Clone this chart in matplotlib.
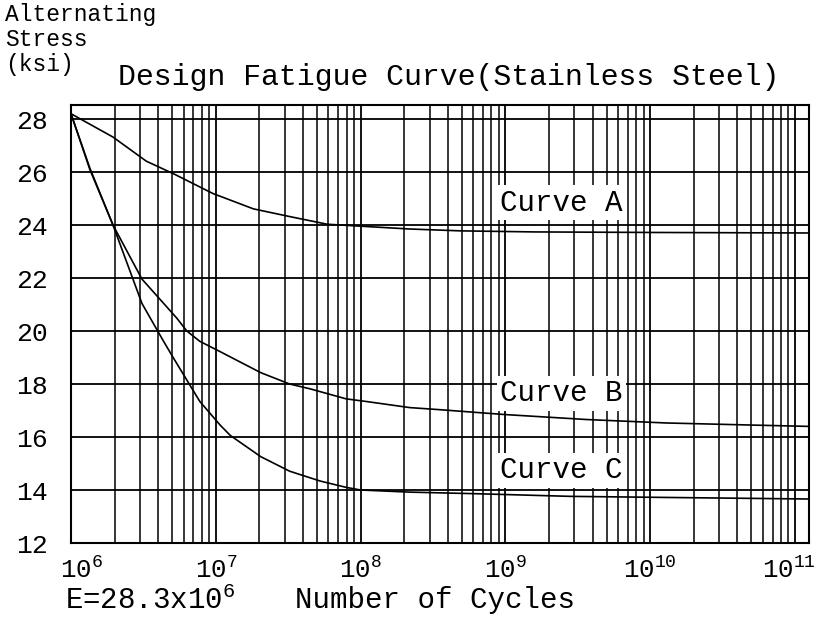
import numpy as np
import matplotlib
matplotlib.use("Agg")
import matplotlib.pyplot as plt
from matplotlib.ticker import FixedLocator, LogLocator, NullFormatter
from matplotlib.transforms import ScaledTranslation

# ---- data ----
a_log_cycles = [6.00, 6.29, 6.52, 6.71, 6.98, 7.26, 7.51, 7.77, 8.02, 8.34, 8.69, 9.20, 10.00, 11.10]
a_stress = [28.20, 27.32, 26.41, 25.93, 25.19, 24.61, 24.32, 24.03, 23.95, 23.85, 23.78, 23.74, 23.72, 23.70]

b_log_cycles = [6.00, 6.13, 6.29, 6.49, 6.73, 6.80, 6.89, 7.02, 7.31, 7.51, 7.65, 7.90, 8.04, 8.34, 8.55, 8.99, 9.56, 10.11, 10.71, 11.10]
b_stress = [28.20, 26.10, 24.00, 21.96, 20.49, 20.00, 19.61, 19.25, 18.43, 18.00, 17.82, 17.44, 17.34, 17.11, 17.03, 16.85, 16.66, 16.53, 16.45, 16.40]

c_log_cycles = [6.00, 6.13, 6.29, 6.49, 6.63, 6.70, 6.89, 7.03, 7.10, 7.31, 7.51, 7.72, 7.90, 8.00, 8.34, 8.80, 9.45, 10.10, 11.10]
c_stress = [28.20, 26.15, 24.00, 21.04, 19.70, 19.05, 17.34, 16.45, 16.06, 15.26, 14.71, 14.34, 14.10, 14.00, 13.92, 13.86, 13.76, 13.72, 13.66]

curve_names = ["Curve A", "Curve B", "Curve C"]
y_ticks = [12, 14, 16, 18, 20, 22, 24, 26, 28]
x_decades = [6, 7, 8, 9, 10, 11]

FONT = "Liberation Mono"
plt.rcParams["font.family"] = [FONT, "DejaVu Sans"]
plt.rcParams["mathtext.fontset"] = "custom"
plt.rcParams["mathtext.rm"] = FONT
plt.rcParams["mathtext.it"] = FONT

fig = plt.figure(figsize=(8.18, 6.18), dpi=100)
ax = fig.add_axes([71/818, 1 - 543/618, (809 - 71)/818, (543 - 105)/618])
ax.set_xscale("log")
ax.set_xlim(1e6, 10**11.097)
ax.set_ylim(12, 28.53)

for logs, s in [(a_log_cycles, a_stress), (b_log_cycles, b_stress), (c_log_cycles, c_stress)]:
    ax.plot(10**np.array(logs), s, color="black", lw=1.2, zorder=3,
            solid_joinstyle="round")

ax.xaxis.set_major_locator(FixedLocator([10.0**d for d in x_decades]))
ax.xaxis.set_minor_locator(LogLocator(base=10, subs=np.arange(2, 10), numticks=20))
ax.xaxis.set_minor_formatter(NullFormatter())
ax.set_xticklabels([r"$\mathregular{10^{%d}}$" % d for d in x_decades])
ax.set_yticks(y_ticks)
ax.set_yticklabels([str(v) for v in y_ticks])

ax.grid(True, which="major", axis="both", color="black", lw=1.3)
ax.grid(True, which="minor", axis="x", color="black", lw=1.1)
ax.tick_params(which="both", length=0)
ax.tick_params(axis="y", pad=17, labelsize=19)
ax.tick_params(axis="x", pad=10, labelsize=18.5)
for sp in ax.spines.values():
    sp.set_linewidth(1.5)
    sp.set_color("black")

xlabels = ax.get_xticklabels()
xlabels[0].set_transform(xlabels[0].get_transform() + ScaledTranslation(10/100, 0, fig.dpi_scale_trans))
xlabels[-1].set_transform(xlabels[-1].get_transform() + ScaledTranslation(-6/100, 0, fig.dpi_scale_trans))

label_pos = [24.85, 17.65, 14.75]
for name, yv in zip(curve_names, label_pos):
    ax.text(10**8.963, yv, name, fontsize=21, va="center", ha="left", zorder=5,
            bbox=dict(boxstyle="square,pad=0.12", fc="white", ec="none"))

fig.text(5/818, 1 - 15/618, "Alternating", fontsize=16.5, va="center", ha="left")
fig.text(5/818, 1 - 40/618, "Stress", fontsize=16.5, va="center", ha="left")
fig.text(5/818, 1 - 65/618, "(ksi)", fontsize=16.5, va="center", ha="left")
fig.text(118/818, 1 - 77/618, "Design Fatigue Curve(Stainless Steel)", fontsize=21.5, va="center", ha="left")
fig.text(65/818, 1 - 600/618, r"E=28.3x$\mathregular{10^{6}}$", fontsize=21, va="center", ha="left")
fig.text(295/818, 1 - 600/618, "Number of Cycles", fontsize=21, va="center", ha="left")

fig.savefig("out.png", dpi=100, facecolor="white")
